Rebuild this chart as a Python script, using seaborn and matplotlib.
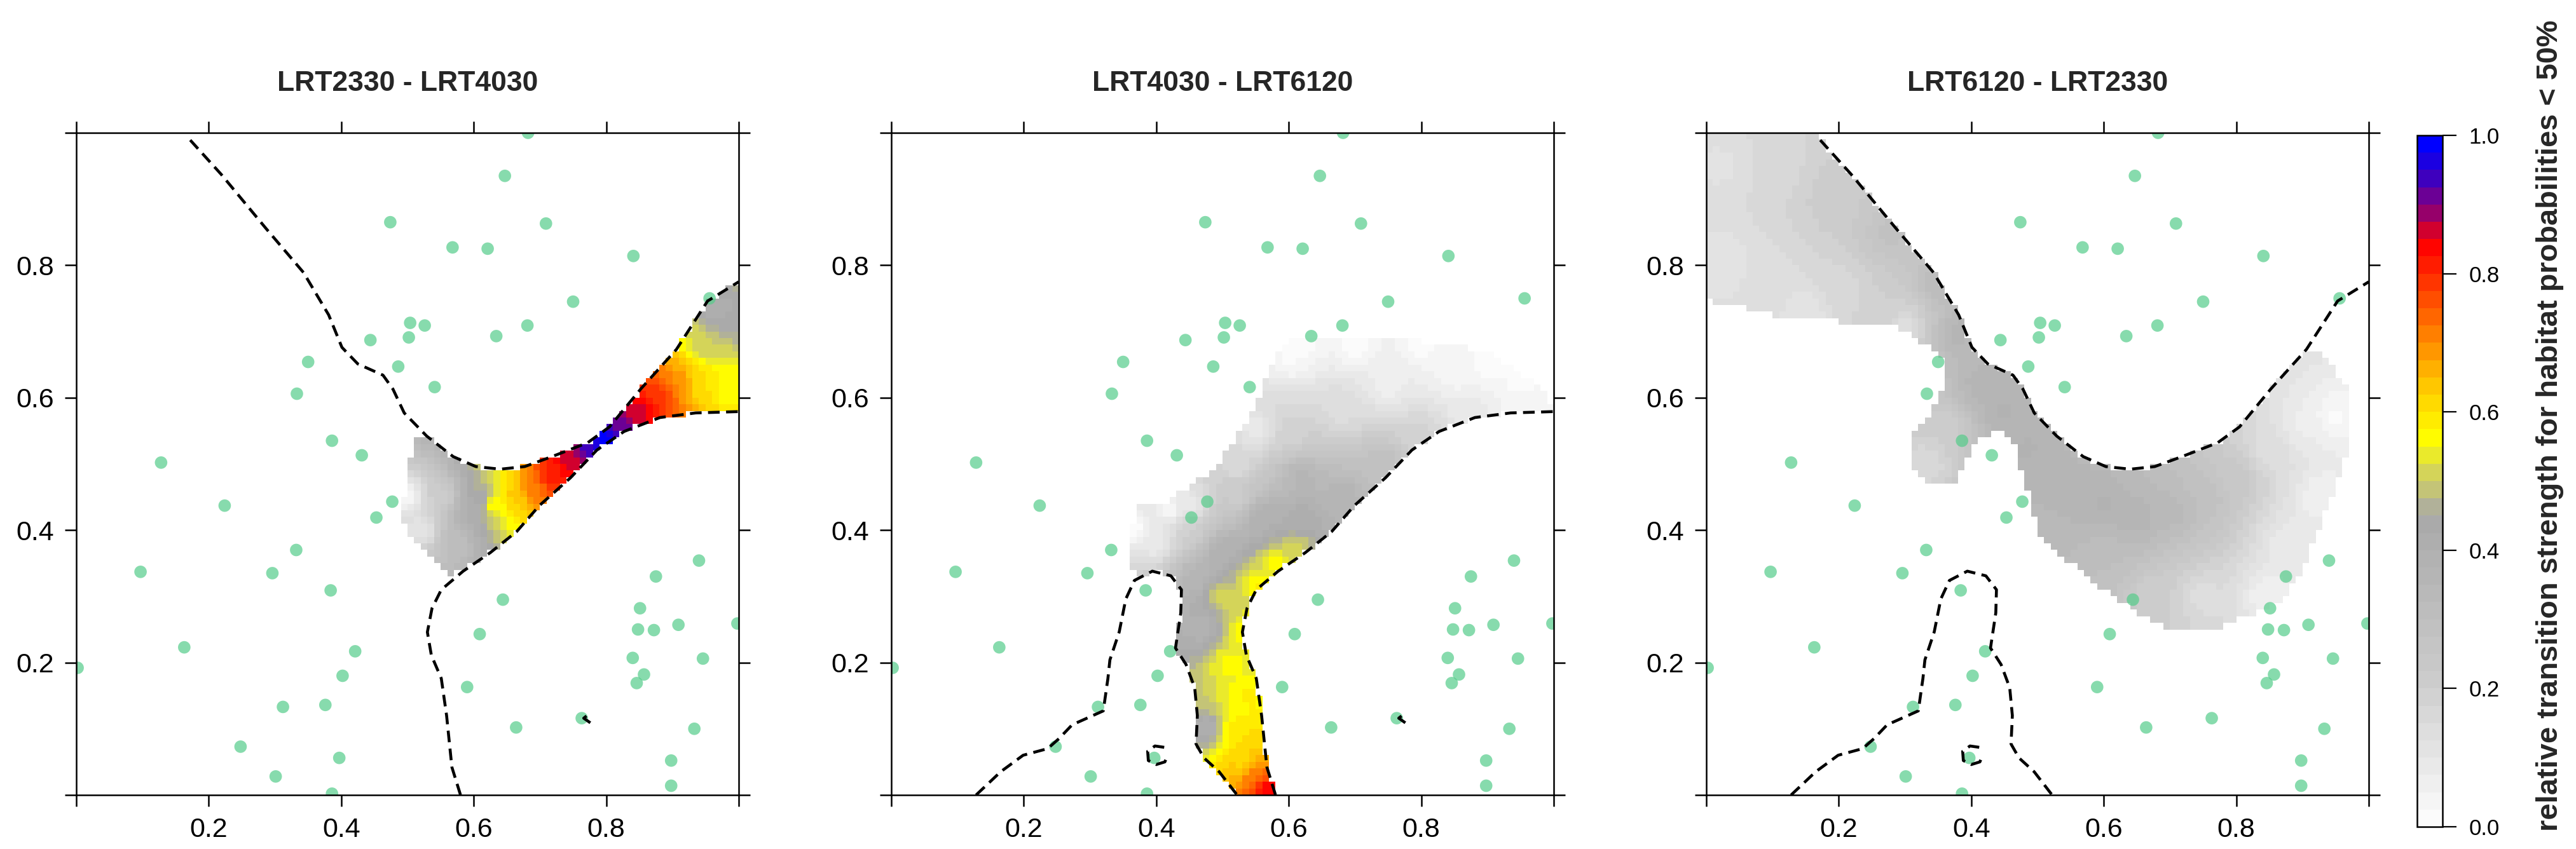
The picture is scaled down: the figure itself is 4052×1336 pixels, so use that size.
import numpy as np
import pandas as pd
import matplotlib
matplotlib.use("Agg")
import matplotlib.pyplot as plt
from matplotlib.path import Path
from matplotlib.colors import LinearSegmentedColormap
from matplotlib.cm import ScalarMappable
import seaborn as sns

# ---- data ----
titles = ["LRT2330 - LRT4030", "LRT4030 - LRT6120", "LRT6120 - LRT2330"]
cbar_label = "relative transition strength for habitat probabilities < 50%"

# sample sites (same in every panel)
pts_x = [0.682, 0.647, 0.474, 0.709, 0.568, 0.621, 0.841, 0.750, 0.956, 0.504,
         0.526, 0.681, 0.444, 0.502, 0.634, 0.350, 0.486, 0.333, 0.541, 0.386,
         0.431, 0.128, 0.224, 0.477, 0.453, 0.332, 0.097, 0.296, 0.384, 0.940,
         0.875, 0.644, 0.851, 0.909, 0.848, 0.872, 0.998, 0.609, 0.163, 0.421,
         0.002, 0.840, 0.946, 0.402, 0.857, 0.846, 0.590, 0.312, 0.376, 0.763,
         0.664, 0.933, 0.248, 0.397, 0.898, 0.301, 0.898, 0.386]
pts_y = [1.000, 0.935, 0.865, 0.863, 0.827, 0.825, 0.814, 0.745, 0.750, 0.713,
         0.709, 0.709, 0.687, 0.691, 0.693, 0.654, 0.647, 0.606, 0.616, 0.535,
         0.513, 0.502, 0.437, 0.443, 0.419, 0.370, 0.337, 0.335, 0.309, 0.354,
         0.330, 0.295, 0.282, 0.257, 0.250, 0.249, 0.259, 0.243, 0.223, 0.217,
         0.192, 0.207, 0.206, 0.180, 0.182, 0.169, 0.163, 0.133, 0.136, 0.116,
         0.102, 0.100, 0.073, 0.056, 0.052, 0.028, 0.014, 0.002]

# 50% probability contours of the three habitats
a_x = [0.172, 0.219, 0.286, 0.343, 0.381, 0.401, 0.425, 0.463, 0.478, 0.495, 0.529,
       0.569, 0.603, 0.640, 0.677, 0.718, 0.772, 0.805, 0.852, 0.906, 0.953, 1.0]
a_y = [0.989, 0.937, 0.856, 0.789, 0.725, 0.676, 0.651, 0.634, 0.613, 0.577, 0.542,
       0.511, 0.496, 0.492, 0.496, 0.511, 0.532, 0.556, 0.613, 0.673, 0.746, 0.775]
b_x = [0.580, 0.567, 0.559, 0.551, 0.536, 0.530, 0.537, 0.551, 0.584, 0.625, 0.665,
       0.699, 0.746, 0.786, 0.827, 0.881, 0.935, 1.0]
b_y = [0.0, 0.042, 0.120, 0.176, 0.211, 0.246, 0.282, 0.310, 0.338, 0.366, 0.398,
       0.437, 0.479, 0.521, 0.549, 0.570, 0.577, 0.579]
b_hook_x = [0.776, 0.766, 0.775]
b_hook_y = [0.109, 0.116, 0.123]
c_x = [0.128, 0.165, 0.199, 0.236, 0.253, 0.273, 0.320, 0.327, 0.330, 0.344, 0.354,
       0.367, 0.394, 0.422, 0.438, 0.437, 0.429, 0.445, 0.458, 0.462, 0.460, 0.472,
       0.495, 0.522]
c_y = [0.0, 0.035, 0.060, 0.070, 0.085, 0.106, 0.127, 0.176, 0.204, 0.246, 0.296,
       0.324, 0.338, 0.331, 0.310, 0.275, 0.222, 0.197, 0.162, 0.120, 0.077, 0.056,
       0.035, 0.0]
c_ring_x = [0.412, 0.398, 0.387, 0.388, 0.400, 0.413, 0.417]
c_ring_y = [0.072, 0.074, 0.066, 0.052, 0.046, 0.050, 0.060]

# outlines of the shaded areas (pieces not already on a contour)
p1_edge_x = [0.512, 0.500, 0.492, 0.504, 0.537, 0.560]
p1_edge_y = [0.545, 0.489, 0.423, 0.390, 0.358, 0.333]
p2_top_x = [1.0, 0.97, 0.90, 0.78, 0.71, 0.606, 0.58, 0.537, 0.490, 0.416, 0.375, 0.358]
p2_top_y = [0.586, 0.624, 0.670, 0.688, 0.694, 0.688, 0.660, 0.563, 0.493, 0.444, 0.437, 0.387]
p3_edge_x = [0.940, 0.974, 0.974, 0.933, 0.906, 0.873, 0.846, 0.778, 0.711, 0.677,
             0.610, 0.556, 0.502, 0.489, 0.475, 0.468, 0.449, 0.414, 0.387, 0.381,
             0.334, 0.310, 0.310, 0.334, 0.354, 0.360, 0.354, 0.313, 0.307, 0.199,
             0.192, 0.098, 0.071, 0.0, 0.0]
p3_edge_y = [0.660, 0.600, 0.530, 0.423, 0.352, 0.296, 0.282, 0.254, 0.250, 0.260,
             0.303, 0.345, 0.394, 0.444, 0.493, 0.521, 0.549, 0.542, 0.500, 0.472,
             0.472, 0.493, 0.542, 0.570, 0.606, 0.634, 0.669, 0.690, 0.704, 0.711,
             0.718, 0.725, 0.732, 0.746, 1.0]

# transition strength samples read inside the shaded areas (x, y, value)
p1_sx = [0.50, 0.52, 0.55, 0.57, 0.60, 0.615, 0.63, 0.66, 0.69, 0.72, 0.75, 0.78,
         0.80, 0.82, 0.85, 0.88, 0.91, 0.94, 0.98, 0.97, 0.99, 0.95]
p1_sy = [0.45, 0.40, 0.45, 0.38, 0.43, 0.45, 0.44, 0.45, 0.46, 0.48, 0.50, 0.525,
         0.535, 0.55, 0.575, 0.60, 0.62, 0.62, 0.61, 0.73, 0.71, 0.68]
p1_sv = [0.04, 0.10, 0.20, 0.30, 0.40, 0.44, 0.57, 0.63, 0.72, 0.82, 0.87, 0.95,
         1.00, 0.92, 0.86, 0.80, 0.70, 0.60, 0.56, 0.40, 0.44, 0.50]
p2_sx = [0.50, 0.51, 0.52, 0.53, 0.55, 0.565, 0.545, 0.54, 0.535, 0.55, 0.58, 0.61,
         0.47, 0.475, 0.46, 0.50, 0.45, 0.40, 0.37, 0.42, 0.52, 0.56, 0.62, 0.68,
         0.74, 0.80, 0.88, 0.95, 0.55, 0.60, 0.68, 0.75, 0.85, 0.60, 0.95, 0.62,
         0.70, 0.80, 0.90, 0.62, 0.52, 0.45]
p2_sy = [0.30, 0.20, 0.10, 0.05, 0.03, 0.01, 0.08, 0.15, 0.25, 0.32, 0.35, 0.37,
         0.25, 0.10, 0.33, 0.37, 0.40, 0.38, 0.40, 0.43, 0.45, 0.42, 0.42, 0.45,
         0.50, 0.545, 0.58, 0.59, 0.55, 0.55, 0.58, 0.62, 0.64, 0.66, 0.62, 0.48,
         0.68, 0.68, 0.65, 0.68, 0.50, 0.44]
p2_sv = [0.52, 0.56, 0.58, 0.62, 0.72, 0.85, 0.62, 0.58, 0.58, 0.58, 0.56, 0.52,
         0.38, 0.40, 0.36, 0.40, 0.20, 0.08, 0.02, 0.04, 0.22, 0.40, 0.42, 0.37,
         0.30, 0.18, 0.08, 0.04, 0.08, 0.18, 0.14, 0.06, 0.03, 0.02, 0.01, 0.36,
         0.01, 0.01, 0.01, 0.01, 0.15, 0.08]
p3_sx = [0.02, 0.02, 0.10, 0.10, 0.20, 0.20, 0.28, 0.28, 0.35, 0.38, 0.42, 0.36,
         0.33, 0.45, 0.48, 0.50, 0.55, 0.60, 0.65, 0.70, 0.75, 0.80, 0.85, 0.90,
         0.95, 0.93, 0.88, 0.85, 0.75, 0.68, 0.60, 0.52, 0.15, 0.30]
p3_sy = [0.95, 0.80, 0.95, 0.78, 0.90, 0.76, 0.85, 0.74, 0.77, 0.70, 0.62, 0.55,
         0.50, 0.58, 0.52, 0.48, 0.45, 0.44, 0.42, 0.43, 0.45, 0.48, 0.52, 0.56,
         0.57, 0.45, 0.38, 0.30, 0.30, 0.30, 0.35, 0.40, 0.73, 0.71]
p3_sv = [0.12, 0.10, 0.16, 0.14, 0.22, 0.16, 0.28, 0.20, 0.32, 0.36, 0.37, 0.20,
         0.15, 0.38, 0.38, 0.37, 0.37, 0.38, 0.37, 0.34, 0.30, 0.24, 0.14, 0.07,
         0.02, 0.05, 0.08, 0.05, 0.14, 0.20, 0.30, 0.34, 0.10, 0.14]

cb_stops = [0.0, 0.2, 0.45, 0.48, 0.52, 0.56, 0.60, 0.65, 0.70, 0.75, 0.80, 0.85,
            0.88, 0.90, 0.93, 0.96, 1.0]
cb_colors = ["#fbfbfb", "#cdcdcd", "#a8a8a8", "#c0c080", "#d8d850", "#ffff00",
             "#ffe600", "#ffc000", "#ff9000", "#ff6000", "#ff3000", "#ff0000",
             "#c00040", "#900070", "#6000a0", "#2a00d0", "#0000ff"]

# ---- build shaded grids ----
cmap = LinearSegmentedColormap.from_list("trans", list(zip(cb_stops, cb_colors)), N=40)
edges = np.linspace(0, 1, 101)
centers = (edges[:-1] + edges[1:]) / 2
gx, gy = np.meshgrid(centers, centers)


def strength_grid(poly_x, poly_y, sx, sy, sv):
    path = Path(np.column_stack([poly_x, poly_y]))
    inside = path.contains_points(np.column_stack([gx.ravel(), gy.ravel()])).reshape(gx.shape)
    sx, sy, sv = np.array(sx), np.array(sy), np.array(sv)
    d2 = (gx[..., None] - sx) ** 2 + (gy[..., None] - sy) ** 2
    w = 1.0 / np.maximum(d2, 1e-6) ** 1.2
    val = (w * sv).sum(-1) / w.sum(-1)
    return np.ma.masked_where(~inside, val)


ax_, ay_ = np.array(a_x), np.array(a_y)
bx_, by_ = np.array(b_x), np.array(b_y)
poly1_x = p1_edge_x + list(bx_[by_ >= 0.33]) + [1.0] + list(ax_[ax_ >= 0.52][::-1])
poly1_y = p1_edge_y + list(by_[by_ >= 0.33]) + [0.775] + list(ay_[ax_ >= 0.52][::-1])
poly2_x = b_x + p2_top_x + c_x[11:]
poly2_y = b_y + p2_top_y + c_y[11:]
poly3_x = [0.0, 0.172] + list(ax_[ax_ <= 0.906]) + p3_edge_x
poly3_y = [1.0, 1.0] + list(ay_[ax_ <= 0.906]) + p3_edge_y

grids = [strength_grid(poly1_x, poly1_y, p1_sx, p1_sy, p1_sv),
         strength_grid(poly2_x, poly2_y, p2_sx, p2_sy, p2_sv),
         strength_grid(poly3_x, poly3_y, p3_sx, p3_sy, p3_sv)]

contours = {
    "A": [(a_x, a_y)],
    "B": [(b_x, b_y), (b_hook_x, b_hook_y)],
    "C": [(c_x, c_y), (c_ring_x, c_ring_y)],
}
panel_contours = [("A", "B"), ("B", "C"), ("C", "A")]
pts = pd.DataFrame({"x": pts_x, "y": pts_y})

# ---- figure ----
sns.set_theme(style="white")
plt.rcParams["font.family"] = ["Liberation Sans", "DejaVu Sans"]
plt.rcParams["axes.linewidth"] = 1.8

W, H = 4052, 1336
fig = plt.figure(figsize=(W / 100, H / 100), dpi=100)
lefts = [120, 1402, 2684]

for i in range(3):
    ax = fig.add_axes([lefts[i] / W, (H - 1251) / H, 1042 / W, 1042 / H])
    ax.pcolormesh(edges, edges, grids[i], cmap=cmap, vmin=0, vmax=1, zorder=1)
    sns.scatterplot(data=pts, x="x", y="y", ax=ax, color="#55cc8a", alpha=0.7,
                    s=200, edgecolor="none", zorder=2, legend=False)
    for key in panel_contours[i]:
        for cx, cy in contours[key]:
            sns.lineplot(x=cx, y=cy, ax=ax, sort=False, estimator=None, color="black",
                         lw=3.3, linestyle=(0, (4.0, 2.2)), zorder=3)
    ax.set_xlim(0, 1)
    ax.set_ylim(0, 1)
    ticks = [0, 0.2, 0.4, 0.6, 0.8, 1.0]
    lbls = ["", "0.2", "0.4", "0.6", "0.8", ""]
    ax.set_xticks(ticks)
    ax.set_xticklabels(lbls)
    ax.set_yticks(ticks)
    ax.set_yticklabels(lbls)
    ax.set_xlabel("")
    ax.set_ylabel("")
    ax.tick_params(direction="out", length=13, width=1.8, labelsize=31, pad=12,
                   top=True, right=True, bottom=True, left=True,
                   labeltop=False, labelright=False, colors="black")
    for sp in ax.spines.values():
        sp.set_color("black")
        sp.set_linewidth(1.8)
    ax.text(0.5, 1.063, titles[i], transform=ax.transAxes, ha="center",
            va="baseline", fontsize=32, fontweight="bold")

# colour key
cax = fig.add_axes([3802 / W, (H - 1301) / H, 40 / W, (1301 - 213) / H])
sm = ScalarMappable(cmap=cmap, norm=plt.Normalize(0, 1))
cb = fig.colorbar(sm, cax=cax)
cb.set_ticks([0, 0.2, 0.4, 0.6, 0.8, 1.0])
cb.set_ticklabels(["0.0", "0.2", "0.4", "0.6", "0.8", "1.0"])
cb.outline.set_linewidth(1.8)
cb.outline.set_edgecolor("black")
cax.tick_params(direction="out", length=16, width=1.6, labelsize=25, pad=14,
                colors="black")

lab = fig.text(4011 / W, 1 - 669.5 / H, cbar_label, rotation=90, ha="center",
               va="center", fontsize=36, fontweight="bold",
               family=["Liberation Sans", "DejaVu Sans"])
r = fig.canvas.get_renderer()
ext = lab.get_window_extent(r)
lab.set_fontsize(36 * 1275 / ext.height)

fig.savefig("out.png", dpi=100, facecolor="white")
